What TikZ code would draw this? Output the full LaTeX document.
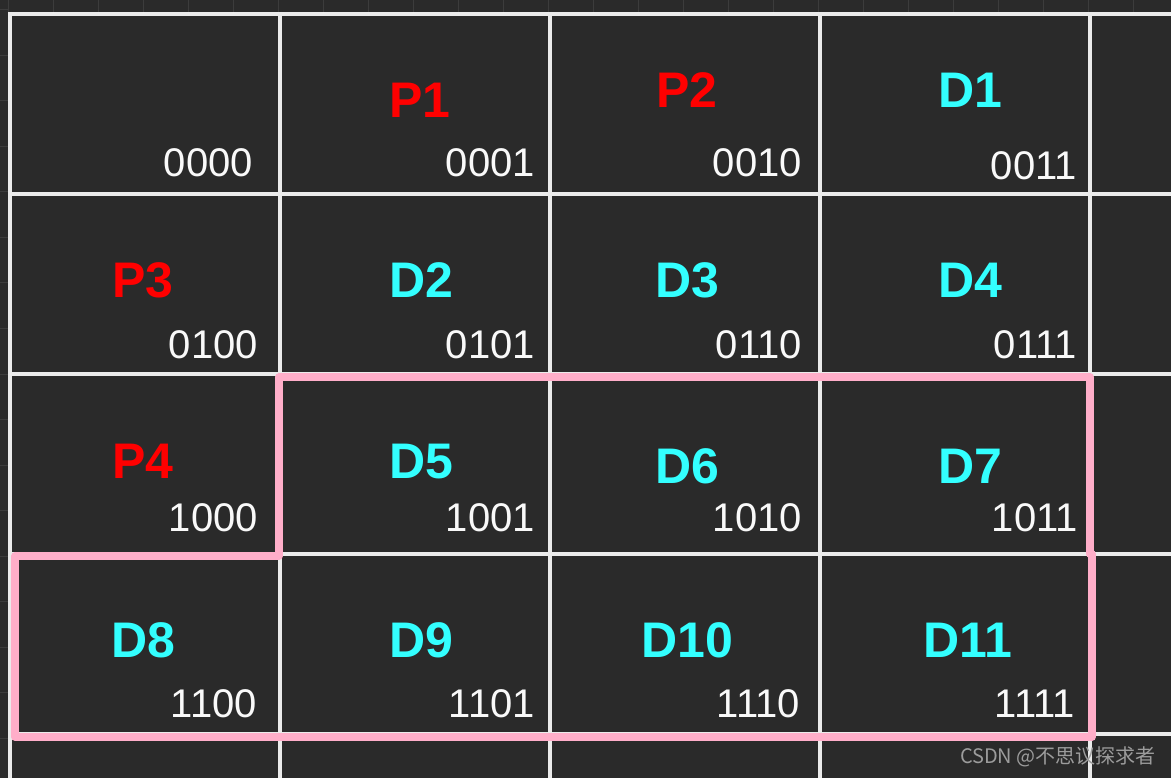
\documentclass[tikz,border=0pt]{standalone}
\usepackage{fontspec}
\setmainfont{Liberation Sans}
\newfontfamily\cjkfont{Noto Sans CJK SC}
\definecolor{bgdark}{HTML}{2A2A2A}
\definecolor{faintline}{HTML}{3C3C3C}
\definecolor{gridwhite}{HTML}{EBEBEB}
\definecolor{parityred}{HTML}{FF0000}
\definecolor{datacyan}{HTML}{33FFFF}
\definecolor{groupink}{HTML}{FFAEC9}
\definecolor{markgray}{HTML}{9C9C9C}

\begin{document}
\begin{tikzpicture}[x=1pt,y=-1pt,
        lbl/.style={font=\bfseries\fontsize{50}{60}\selectfont, anchor=base, inner sep=0pt},
        parity/.style={lbl, text=parityred},
        data/.style={lbl, text=datacyan},
        bits/.style={font=\fontsize{40}{48}\selectfont, text=white!95!gray, anchor=base east, inner sep=0pt},
        gridline/.style={draw=gridwhite, line width=4pt},
        faint/.style={draw=faintline, line width=1pt}]
        \useasboundingbox (0,0) rectangle (1171,778);
        \fill[bgdark] (0,0) rectangle (1171,778);
        \foreach \x in {8,53,...,1171} \draw[faint] (\x,0) -- (\x,12);
        \foreach \y in {10,55.5,...,778} \draw[faint] (0,\y) -- (8,\y);
        \draw[gridline] (10,12) -- (10,778);
        \draw[gridline] (280,12) -- (280,778);
        \draw[gridline] (550,12) -- (550,778);
        \draw[gridline] (820,12) -- (820,778);
        \draw[gridline] (1090,12) -- (1090,778);
        \draw[gridline] (8,14) -- (1171,14);
        \draw[gridline] (8,194) -- (1171,194);
        \draw[gridline] (8,374) -- (1171,374);
        \draw[gridline] (8,554) -- (1171,554);
        \draw[gridline] (8,734) -- (1171,734);
        \draw[groupink, line width=7.5pt, line join=round]
            (279,377) -- (1090,377) -- (1090,554) -- (1092,554) -- (1092,737)
            -- (15,737) -- (15,556) -- (279,556) -- cycle;
        \node[parity] (p1) at (420,118) {P1};
        \node[parity] (p2) at (687,108) {P2};
        \node[data] (d1) at (970,108) {D1};
        \node[parity] (p3) at (143,298) {P3};
        \node[data] (d2) at (421,298) {D2};
        \node[data] (d3) at (687,298) {D3};
        \node[data] (d4) at (970,298) {D4};
        \node[parity] (p4) at (143,478) {P4};
        \node[data] (d5) at (421,478) {D5};
        \node[data] (d6) at (687,483) {D6};
        \node[data] (d7) at (970,483) {D7};
        \node[data] (d8) at (143,657) {D8};
        \node[data] (d9) at (421,657) {D9};
        \node[data] (d10) at (687,657) {D10};
        \node[data] (d11) at (968,657) {D11};
        \node[bits] (b0000) at (253,177) {0000};
        \node[bits] (b0001) at (535,177) {0001};
        \node[bits] (b0010) at (802,177) {0010};
        \node[bits] (b0011) at (1077,180) {0011};
        \node[bits] (b0100) at (258,358) {0100};
        \node[bits] (b0101) at (535,358) {0101};
        \node[bits] (b0110) at (802,358) {0110};
        \node[bits] (b0111) at (1077,358) {0111};
        \node[bits] (b1000) at (258,531) {1000};
        \node[bits] (b1001) at (535,531) {1001};
        \node[bits] (b1010) at (802,531) {1010};
        \node[bits] (b1011) at (1078,531) {1011};
        \node[bits] (b1100) at (257,717) {1100};
        \node[bits] (b1101) at (535,717) {1101};
        \node[bits] (b1110) at (800,717) {1110};
        \node[bits] (b1111) at (1075,717) {1111};
        \node[anchor=east, inner sep=0pt, text=markgray, font=\cjkfont\fontsize{20}{24}\selectfont] (mark) at (1156,757) {CSDN @不思议探求者};
    \end{tikzpicture}
\end{document}
